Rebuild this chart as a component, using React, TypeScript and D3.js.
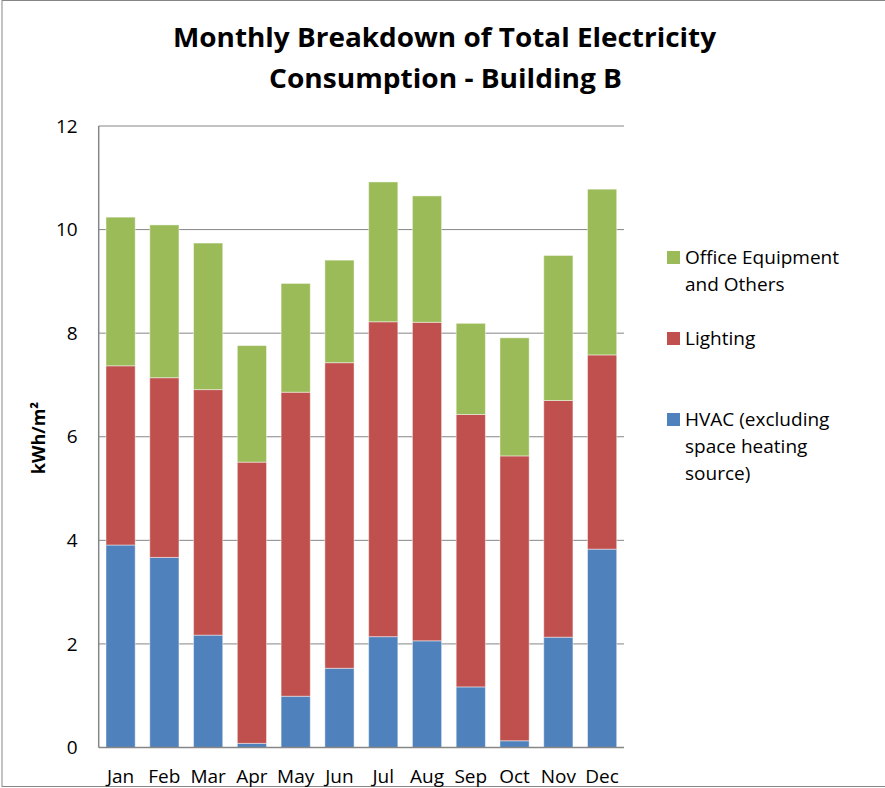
import React from "react";
import * as d3 from "d3";

const months = ["Jan", "Feb", "Mar", "Apr", "May", "Jun", "Jul", "Aug", "Sep", "Oct", "Nov", "Dec"];

// stacked totals, converted to per-series values below
const hvac = [3.91, 3.67, 2.17, 0.08, 0.99, 1.53, 2.14, 2.06, 1.17, 0.13, 2.13, 3.83];
const lightingTop = [7.37, 7.14, 6.91, 5.51, 6.86, 7.43, 8.22, 8.21, 6.43, 5.63, 6.7, 7.58];
const totalTop = [10.24, 10.09, 9.74, 7.76, 8.96, 9.41, 10.92, 10.65, 8.19, 7.91, 9.5, 10.78];

const lighting = lightingTop.map((v, i) => +(v - hvac[i]).toFixed(2));
const office = totalTop.map((v, i) => +(v - lightingTop[i]).toFixed(2));

const seriesKeys = ["hvac", "lighting", "office"];
const seriesColors: { [k: string]: string } = {
  hvac: "#4F81BD",
  lighting: "#C0504D",
  office: "#9BBB59",
};
const yTicks = [0, 2, 4, 6, 8, 10, 12];

const legendItems = [
  { key: "office", lines: ["Office Equipment", "and Others"], y: 251 },
  { key: "lighting", lines: ["Lighting"], y: 332 },
  { key: "hvac", lines: ["HVAC (excluding", "space heating", "source)"], y: 413 },
];

const font = "'Open Sans', 'Noto Sans', sans-serif";

const App: React.FC = () => {
  const width = 885;
  const height = 788;
  const margin = { top: 126, left: 98.7, right: 261, bottom: 40.5 };
  const innerW = width - margin.left - margin.right;
  const innerH = height - margin.top - margin.bottom;

  const rows = months.map((m, i) => ({
    month: m,
    hvac: hvac[i],
    lighting: lighting[i],
    office: office[i],
  }));

  const stack = d3.stack<any>().keys(seriesKeys);
  const stacked = stack(rows);

  const x = d3
    .scaleBand()
    .domain(months)
    .range([0, innerW])
    .paddingInner(1 / 3)
    .paddingOuter(1 / 6);
  const y = d3.scaleLinear().domain([0, 12]).range([innerH, 0]);

  return (
    <svg
      width={width}
      height={height}
      style={{ position: "absolute", left: 0, top: 0, background: "#fff" }}
      fontFamily={font}
    >
      <rect x={2} y={0.5} width={width + 10} height={786} fill="#fff" stroke="#868686" strokeWidth={1} />

      <text x={444.5} y={47} textAnchor="middle" fontWeight="bold" fontSize={27} textLength={543} lengthAdjust="spacingAndGlyphs">
        Monthly Breakdown of Total Electricity
      </text>
      <text x={445.5} y={88} textAnchor="middle" fontWeight="bold" fontSize={27} textLength={353} lengthAdjust="spacingAndGlyphs">
        Consumption - Building B
      </text>

      <g transform={`translate(${margin.left},${margin.top})`}>
        {yTicks.map((t) => (
          <g key={t}>
            {t > 0 && (
              <line x1={0} x2={innerW} y1={y(t)} y2={y(t)} stroke="#868686" strokeWidth={1} />
            )}
            <text x={-21} y={y(t)} dy="0.35em" textAnchor="end" fontSize={19}>
              {t}
            </text>
          </g>
        ))}

        {stacked.map((s) => (
          <g key={s.key} fill={seriesColors[s.key]}>
            {s.map((d, i) => (
              <rect
                key={i}
                x={x(months[i])}
                y={y(d[1])}
                width={x.bandwidth()}
                height={y(d[0]) - y(d[1])}
                stroke="#ffffff"
                strokeOpacity={0.45}
                strokeWidth={1}
              />
            ))}
          </g>
        ))}

        <line x1={0} x2={0} y1={0} y2={innerH} stroke="#868686" strokeWidth={1.5} />
        <line x1={0} x2={innerW} y1={innerH} y2={innerH} stroke="#868686" strokeWidth={1.5} />

        {months.map((m) => (
          <text key={m} x={(x(m) ?? 0) + x.bandwidth() / 2} y={innerH + 35} textAnchor="middle" fontSize={19}>
            {m}
          </text>
        ))}
      </g>

      <text
        transform="translate(45,438) rotate(-90)"
        textAnchor="middle"
        fontWeight="bold"
        fontSize={18}
      >
        kWh/m²
      </text>

      {legendItems.map((item) => (
        <g key={item.key}>
          <rect x={667} y={item.y} width={13} height={13} fill={seriesColors[item.key]} />
          {item.lines.map((ln, j) => (
            <text key={j} x={685} y={item.y + 13 + j * 27} fontSize={19}>
              {ln}
            </text>
          ))}
        </g>
      ))}
    </svg>
  );
};

export default App;
